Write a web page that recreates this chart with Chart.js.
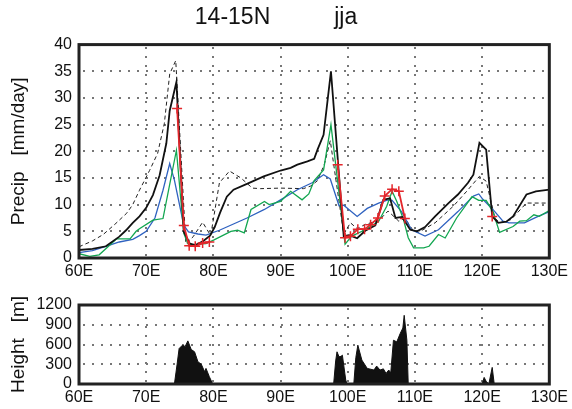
<!DOCTYPE html>
<html>
<head>
<meta charset="utf-8">
<script src="https://cdn.jsdelivr.net/npm/chart.js@4/dist/chart.umd.min.js"></script>
<style>
  html, body { margin: 0; padding: 0; background: #fff; }
  #wrap { position: relative; width: 572px; height: 409px; }
  #top { position: absolute; left: 0; top: 0; }
  #bot { position: absolute; left: 0; top: 280px; }
</style>
</head>
<body>
<div id="wrap">
  <canvas id="top" width="572" height="280"></canvas>
  <canvas id="bot" width="572" height="129"></canvas>
</div>
<script>
// longitude (deg E) and precip (mm/day)
const blackLon = [60, 62, 64, 66, 67, 68, 69, 70, 71, 72, 73, 73.5, 74.5, 75.6, 76.5, 77.3, 78.5, 79.5, 80.2, 81, 82, 83, 85, 87.5, 90, 91.5, 92.5, 94, 95, 95.5, 96.4, 97.5, 99.4, 100.2, 101.4, 102.6, 104.1, 105.3, 106.3, 107.1, 108.1, 109.3, 110.3, 111.5, 113, 115, 116.4, 117.9, 118.7, 119.6, 120.6, 121.5, 122.4, 123.6, 124.6, 126.6, 128, 130];
const blackVal = [1.5, 1.7, 2.2, 4.0, 5.2, 6.6, 7.8, 9.4, 11.8, 15.5, 21.5, 27.6, 33.0, 4.9, 2.7, 2.4, 3.2, 4.2, 5.8, 8.5, 11.5, 12.8, 13.9, 15.3, 16.4, 16.9, 17.5, 18.1, 18.6, 20.3, 23.1, 35.0, 4.1, 4.3, 3.7, 5.1, 6.1, 10.9, 11.2, 7.5, 7.7, 5.3, 5.0, 5.8, 7.8, 10.3, 11.9, 14.1, 15.6, 21.6, 20.3, 7.8, 6.6, 6.8, 7.8, 11.9, 12.5, 12.8];

const dashLon = [60, 62, 63.6, 65.5, 67.1, 68, 69, 70.5, 71.7, 72.7, 73.5, 74.4, 75.9, 77, 78.4, 79.6, 80.9, 82.4, 84.1, 85.8, 87, 90, 93.4, 94.5, 95.5, 96.5, 97.4, 99.4, 100.4, 101.4, 102.6, 104.6, 106, 107.6, 108.5, 109.7, 110.5, 113, 115.7, 117.7, 119.6, 120.6, 121.9, 122.6, 124.3, 126.6, 130];
const dashVal = [2.1, 3.2, 4.4, 6.5, 8.4, 10.0, 12.7, 16.4, 19.6, 25.2, 34.5, 37.0, 2.7, 4.0, 6.7, 4.2, 14.1, 16.3, 15.0, 13.1, 13.0, 13.1, 13.0, 13.5, 14.5, 17.5, 22.0, 4.5, 6.6, 5.5, 6.3, 7.0, 8.8, 6.9, 7.5, 5.2, 4.8, 6.6, 9.7, 12.5, 15.3, 14.4, 7.5, 6.6, 7.2, 10.3, 10.3];

const blueLon = [60, 62, 64, 66, 68, 69, 70, 71.3, 72.5, 73.5, 74.2, 75.6, 76.3, 77.7, 78.9, 80.9, 85, 87.6, 90, 92.5, 94.7, 96.4, 97.4, 98.7, 99.4, 101.4, 102.9, 104.6, 106, 106.6, 108, 109.5, 111.5, 113.5, 116.4, 118.7, 119.5, 120.1, 121.6, 123.1, 124, 126.3, 128, 130];
const blueVal = [1.0, 1.4, 2.2, 3.0, 3.5, 4.2, 5.0, 7.5, 12.7, 17.7, 14.6, 6.1, 4.9, 4.5, 4.3, 5.2, 7.5, 9.1, 10.9, 12.8, 14.1, 15.6, 14.8, 9.8, 9.9, 7.8, 9.3, 10.3, 10.9, 10.8, 8.7, 5.3, 4.1, 5.3, 8.7, 11.6, 12.0, 11.0, 9.1, 6.9, 6.6, 6.6, 7.6, 8.7];

const greenLon = [60, 61.6, 63, 65.6, 67.6, 68.5, 69, 71, 72.5, 74.5, 75.6, 76.2, 76.9, 78.9, 80.1, 82.6, 83.6, 84.6, 85.6, 87.6, 88.3, 90, 91.5, 93.2, 94.2, 95, 96.4, 97.5, 99.6, 100.6, 102.6, 104.6, 105.8, 106.6, 107.3, 108.3, 109, 109.8, 111.3, 112.1, 113.5, 114.5, 116.2, 118.5, 119.5, 120.6, 121.6, 122.6, 124.6, 125.6, 126.6, 127.7, 128.5, 130];
const greenVal = [0.8, 0.3, 0.6, 3.6, 3.6, 5.0, 5.5, 7.1, 7.4, 20.2, 4.6, 2.7, 2.5, 2.7, 3.4, 5.0, 5.2, 4.7, 9.1, 10.6, 10.0, 10.6, 12.5, 10.9, 12.0, 14.5, 16.5, 25.0, 2.6, 4.1, 5.3, 6.9, 9.7, 12.5, 10.6, 7.2, 3.8, 1.9, 1.9, 2.2, 4.4, 3.75, 7.5, 11.5, 10.8, 10.8, 8.7, 4.8, 5.9, 6.9, 7.0, 8.1, 7.8, 8.9];

// red "+" series, null breaks the line
const redLon = [74.6, 75.6, 76.4, 77.3, 78.4, 79.4, 85, 98.5, 99.6, 100.4, 101.5, 102.5, 103.4, 104.5, 105.5, 106.6, 107.6, 108.5, 115, 121.5];
const redVal = [28.0, 6.1, 2.3, 2.2, 2.8, 3.0, null, 17.5, 3.8, 4.1, 5.4, 5.4, 6.25, 7.5, 11.6, 12.9, 12.5, 7.4, null, 7.8];

// terrain height (m)
const terrLon = [60, 74.2, 74.6, 74.9, 75.4, 75.8, 76.2, 76.7, 77.2, 77.7, 78.2, 78.7, 78.9, 79.4, 79.9, 97.9, 98.2, 98.4, 98.7, 99.0, 99.2, 99.7, 99.9, 100.9, 101.2, 101.5, 102.1, 102.9, 103.9, 104.3, 104.8, 105.3, 105.7, 106.1, 106.4, 106.8, 107.3, 107.8, 108.2, 108.4, 108.8, 109.0, 120.0, 120.3, 120.6, 121.0, 121.5, 121.8, 130];
const terrH = [0, 0, 300, 539, 590, 570, 655, 524, 489, 338, 300, 186, 237, 111, 0, 0, 350, 489, 413, 420, 438, 60, 0, 0, 400, 590, 363, 237, 212, 272, 212, 230, 161, 212, 170, 665, 640, 766, 850, 1043, 665, 0, 0, 100, 40, 0, 252, 0, 0];

const lonTicks = [60, 70, 80, 90, 100, 110, 120, 130];

const pts = (xs, ys) => xs.map((x, i) => ({ x: x, y: ys[i] }));
const FONT = 'Liberation Sans';

// dotted grid lines and the heavy frame
const frame = {
  id: 'frame',
  beforeDatasetsDraw(chart) {
    const a = chart.chartArea, c = chart.ctx;
    const xs = chart.scales.x, ys = chart.scales.y;
    c.save();
    c.fillStyle = '#777';
    lonTicks.forEach(v => {
      const px = Math.round(xs.getPixelForValue(v));
      for (let y = a.bottom - 4; y > a.top; y -= 9) c.fillRect(px - 1, y, 2, 2);
    });
    ys.ticks.forEach(t => {
      const py = Math.round(ys.getPixelForValue(t.value));
      for (let x = a.left + 4; x < a.right; x += 9) c.fillRect(x, py - 1, 2, 2);
    });
    c.restore();
  },
  afterDraw(chart) {
    const a = chart.chartArea, c = chart.ctx;
    c.save();
    c.strokeStyle = '#222';
    c.lineWidth = 3;
    c.strokeRect(a.left, a.top, a.right - a.left, a.bottom - a.top);
    c.restore();
  }
};

function xAxis(h) {
  return {
    type: 'linear', min: 60, max: 130,
    afterBuildTicks: s => { s.ticks = lonTicks.map(v => ({ value: v })); },
    afterFit: s => { s.height = h; },
    ticks: { callback: v => v + 'E', color: '#111', font: { family: FONT, size: 16 }, padding: 4, maxRotation: 0, autoSkip: false },
    grid: { display: false, drawTicks: false },
    border: { display: false }
  };
}

function yAxis(min, max, step, title) {
  return {
    min: min, max: max,
    ticks: { stepSize: step, autoSkip: false, callback: v => String(v), color: '#111', font: { family: FONT, size: 16 }, padding: 7 },
    afterFit: s => { s.width = 79; },
    grid: { display: false, drawTicks: false },
    border: { display: false },
    title: { display: true, text: title, color: '#111', font: { family: FONT, size: 19 }, padding: { top: 7, bottom: 0 } }
  };
}

const line = (data, color, width, dash) => ({
  data: data, borderColor: color, backgroundColor: color, borderWidth: width,
  borderDash: dash || [], pointRadius: 0, tension: 0, fill: false
});

new Chart(document.getElementById('top'), {
  type: 'line',
  data: {
    datasets: [
      Object.assign(line(pts(redLon, redVal), '#e3262b', 1.8), {
        pointStyle: 'cross', pointRadius: 5, pointBorderWidth: 1.5, spanGaps: false
      }),
      line(pts(blackLon, blackVal), '#111', 1.8),
      line(pts(greenLon, greenVal), '#12a650', 1.3),
      line(pts(blueLon, blueVal), '#2f62c0', 1.3),
      line(pts(dashLon, dashVal), '#222', 1, [4, 3])
    ]
  },
  options: {
    responsive: false, animation: false,
    layout: { padding: { left: 0, right: 20, top: 0, bottom: 0 } },
    plugins: {
      legend: { display: false }, tooltip: { enabled: false },
      title: { display: true, text: '14-15N          jja', color: '#111', font: { family: FONT, size: 23, weight: 'normal' }, padding: { top: 4, bottom: 13 } }
    },
    scales: { x: xAxis(22), y: yAxis(0, 40, 5, 'Precip   [mm/day]') }
  },
  plugins: [frame]
});

new Chart(document.getElementById('bot'), {
  type: 'line',
  data: {
    datasets: [
      Object.assign(line(pts(terrLon, terrH), '#111', 1), { fill: 'origin', backgroundColor: '#111' })
    ]
  },
  options: {
    responsive: false, animation: false,
    layout: { padding: { left: 0, right: 20, top: 25, bottom: 0 } },
    plugins: { legend: { display: false }, tooltip: { enabled: false } },
    scales: { x: xAxis(25), y: yAxis(0, 1200, 300, 'Height   [m]') }
  },
  plugins: [frame]
});
</script>
</body>
</html>
